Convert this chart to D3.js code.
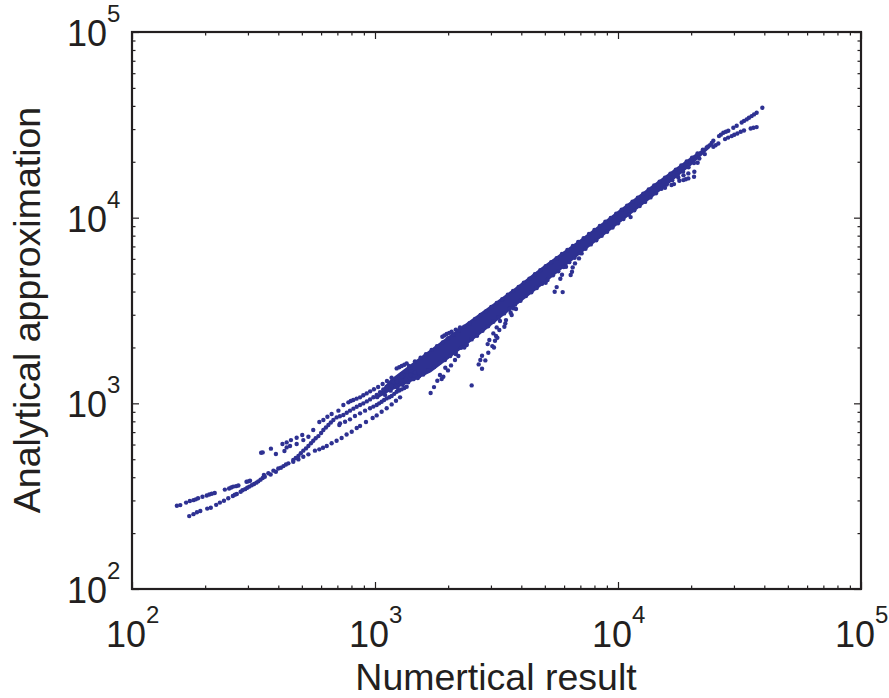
<!DOCTYPE html>
<html>
<head>
<meta charset="utf-8">
<script src="https://cdn.jsdelivr.net/npm/d3@7"></script>
<style>
  html, body { margin: 0; padding: 0; background: #fff; }
  svg { display: block; }
  text { font-family: "Liberation Sans", Arial, sans-serif; fill: #231f20; }
</style>
</head>
<body>
<svg id="chart" width="889" height="698"></svg>
<script>
// ── TICKS / LABELS ────────────────────────────────────────────────
const majorTicks = [100, 1000, 10000, 100000];
const tickExponents = ['2', '3', '4', '5'];
const minorTicks = [
  200, 300, 400, 500, 600, 700, 800, 900,
  2000, 3000, 4000, 5000, 6000, 7000, 8000, 9000,
  20000, 30000, 40000, 50000, 60000, 70000, 80000, 90000
];
const xTitle = 'Numertical result';
const yTitle = 'Analytical approximation';

// ── DATA, [numerical, analytical] ─────────────────────────────────
const tailLow = [[153,281],[158,283],[167,292],[173,298],[179,301],[183,304],[187,308],[195,314],[203,319],[208,323],[213,326],[219,329],[241,343],[251,348],[256,352],[261,356],[268,358],[274,361],[296,378],[301,380],[306,383]];
const stemLow = [[172,247],[179,253],[185,259],[191,263],[204,271],[211,274],[222,284],[230,292],[239,299],[249,308],[260,317],[270,325],[280,334],[292,345],[304,356],[318,368],[331,380],[345,396],[349,411],[364,420],[382,434],[400,446],[420,459],[440,475],[352,402],[372,414],[391,428],[410,450],[430,468],[265,322],[285,340],[298,351],[311,362],[325,374],[338,388]];
const forkLower = [[461,485],[484,499],[507,516],[532,531],[566,556],[590,565],[611,577],[633,589],[663,609],[695,629],[729,650],[764,680],[802,703],[841,736],[868,755],[918,793],[978,833],[1016,861],[1065,901],[1117,940],[1171,987],[1220,1033],[1268,1077]];
const forkUpper = [[461,495],[472,508],[484,520],[495,538],[507,556],[520,572],[532,589],[545,609],[557,629],[570,648],[585,666],[600,692],[613,718],[628,741],[643,764],[658,788],[674,813],[695,840],[717,852],[741,865],[765,889],[789,913],[815,936],[841,959],[868,979],[895,999],[925,1024],[954,1050],[985,1079],[1016,1108],[1049,1148],[1082,1189],[1117,1229],[1152,1270],[1190,1302],[1228,1335],[1268,1377],[1308,1420]];
const forkMiddle = [[718,780],[753,796],[789,820],[827,854],[868,883],[910,913],[954,940],[985,960],[1016,979],[1040,1000],[1065,1020],[1090,1042],[1117,1063],[1145,1079],[1171,1095],[1200,1125],[1228,1155],[1258,1172],[1288,1189],[1320,1209],[1350,1229]];
const looseUpper = [[340,542],[345,544],[373,570],[391,533],[416,604],[433,616],[451,634],[476,653],[502,675],[424,554],[433,579],[447,589],[476,604],[507,634],[532,661],[557,718],[590,793],[613,813],[637,847],[663,876],[707,913],[741,979],[777,1012],[814,1042],[868,1077],[924,1131],[1228,1542],[1258,1565],[1288,1588],[1320,1615],[1350,1641],[713,764],[795,1030],[840,1060],[895,1105],[955,1160],[990,1190],[1030,1225],[1075,1270],[1120,1320],[1170,1375]];
const fanMiddle = [[1020,1080],[1060,1130],[1110,1190],[1170,1240],[1230,1310],[1290,1400],[1350,1480],[1400,1560],[1100,1110],[1160,1170],[1220,1230],[1280,1280],[1340,1350],[1400,1420],[1460,1460],[1240,1210],[1300,1260],[1370,1300],[1440,1350],[1520,1400]];
const looseBand = [[1893,2284],[1930,2320],[1972,2361],[2020,2395],[2068,2430],[2150,2495],[2238,2564]];
const looseBelow = [[1694,1136],[1749,1223],[1805,1323],[1851,1420],[1911,1391],[1881,1351],[1947,1555],[1997,1504],[2055,1601],[2134,1710],[2203,1797],[2148,1842],[2499,1249],[2757,1536],[2671,1621],[2845,1703],[2713,1710],[2757,1804],[2926,1873],[2908,2085],[2954,2192],[3069,2380],[3040,2034],[3088,2000],[3118,2173],[3188,2256],[3148,2303],[3248,2481],[3168,2564],[3269,2774],[3407,2585],[3460,2808],[3438,2694],[3651,2988],[3709,3246],[3804,3219],[3616,3074],[5488,3990],[5920,3973],[5593,4228],[5790,4689],[5882,4928],[6386,4907],[6467,5114],[6509,5398],[6653,5673],[6910,6034],[7087,6419],[6109,5442],[5038,4461],[2384,2060],[2331,2000]];
const coreUpper = [[1380,1590],[1460,1680],[1540,1760],[1620,1840],[1710,1940],[1800,2030],[1900,2130],[2000,2240],[2100,2340],[2210,2470],[2330,2590],[2450,2700],[2580,2850],[2720,2990],[2860,3130],[3010,3300],[3170,3470],[3340,3640],[3520,3850],[3700,4030],[3900,4230],[4100,4470],[4320,4690],[4550,4960],[4790,5210],[5040,5480],[5310,5760],[5590,6050],[5880,6370],[6190,6700],[6520,7040],[6860,7390],[7220,7760],[7600,8170],[8000,8590],[8420,9020],[8870,9510],[9340,9980],[9830,10510],[10350,11040],[10900,11590],[11470,12200],[12070,12800],[12710,13480],[13380,14170],[14090,14900],[14830,15620],[15610,16420],[16440,17270],[17300,18150],[18210,19080],[19170,20050],[20180,21060],[21240,22150],[22360,23260]];
const coreLower = [[1500,1370],[1580,1430],[1660,1510],[1750,1570],[1840,1650],[1940,1710],[2040,1800],[2150,1880],[2260,1990],[2380,2080],[2500,2210],[2630,2310],[2770,2460],[2920,2600],[3070,2750],[3230,2910],[3400,3050],[3580,3220],[3770,3400],[3970,3570],[4180,3780],[4400,3960],[4630,4180],[4870,4400],[5130,4620],[5400,4890],[5680,5140],[5980,5420],[6300,5760],[6630,6080],[6980,6450],[7350,6800],[7730,7180],[8140,7550],[8570,7980],[9020,8400],[9500,8860],[10000,9330],[10530,9830],[11080,10380],[11670,10950],[12280,11550],[12930,12160],[13610,12860],[14330,13530],[15090,14300],[15880,15100],[16720,15920],[17600,16800],[18530,17700],[19510,18700],[20540,19700],[21620,20800],[22760,22000]];
const headUpper = [[39260,39080],[37200,36730],[36300,36000],[35480,35250],[34600,34500],[33840,33820],[33000,33200],[32280,32580],[30790,31260],[29830,30490],[28440,29380],[27800,29000],[27130,28660],[26500,28000],[26040,27500]];
const headLower = [[37200,30740],[36100,30500],[35150,30240],[33000,29500],[32000,29000],[30990,28420],[30100,27950],[29360,27500],[28400,27000],[27570,26500],[25880,25110],[25200,24550],[24680,24090],[24680,25950],[24300,25250],[23910,24590],[23500,24200],[23170,23890]];
const sideTail = [[20610,17670],[20550,16610],[19470,16270],[19000,16100],[18570,15930],[17880,15810],[17000,15160],[16600,15000],[17710,16470],[18600,16900],[19470,17310],[15610,14500],[21270,19760],[11270,10070]];

// where the dots overlap into a solid band: analytical range per numerical value
const coreX    = [1020, 1153, 1432, 1700, 2000, 2700, 3700, 5000, 7000, 10000, 14000, 20000, 24000];
const coreHigh = [1100, 1340, 1660, 1960, 2300, 3060, 4120, 5580, 7650, 10900, 15150, 21300, 24900];
const coreLow  = [1060, 1160, 1320, 1470, 1730, 2340, 3260, 4440, 6370,  9200, 13000, 19100, 23900];

const dotSeries = [tailLow, stemLow, forkLower, forkUpper, forkMiddle, looseUpper, fanMiddle, looseBand,
                   looseBelow, coreUpper, coreLower, headUpper, headLower, sideTail];

// ── LAYOUT ────────────────────────────────────────────────────────
const INK = '#231f20', DOT = '#2e3192';
const svg = d3.select('#chart');
const box = { left: 132, right: 861, top: 32, bottom: 589 };

const x = d3.scaleLog().domain([100, 100000]).range([box.left, box.right]);
const y = d3.scaleLog().domain([100, 100000]).range([box.bottom, box.top]);

// ── MARKS ─────────────────────────────────────────────────────────
const band = d3.area()
  .x((d, i) => x(coreX[i]))
  .y0((d, i) => y(coreLow[i]))
  .y1((d, i) => y(coreHigh[i]));
svg.append('path').attr('d', band(coreX)).attr('fill', DOT);

svg.append('g').selectAll('g')
  .data(dotSeries)
  .enter().append('g')
  .selectAll('circle')
  .data(d => d)
  .enter().append('circle')
    .attr('cx', d => x(d[0]))
    .attr('cy', d => y(d[1]))
    .attr('r', 2.2)
    .attr('fill', DOT);

// ── AXES ──────────────────────────────────────────────────────────
function drawSide(axisFn, scale, tx, ty, len) {
  [[majorTicks, len], [minorTicks, len / 2]].forEach(([vals, size]) => {
    const g = svg.append('g')
      .attr('transform', `translate(${tx},${ty})`)
      .call(axisFn(scale).tickValues(vals).tickSize(size).tickFormat(''));
    g.select('.domain').remove();
    g.selectAll('line').attr('stroke', INK).attr('stroke-width', 1.2);
  });
}
drawSide(d3.axisTop,    x, 0, box.bottom, 7);
drawSide(d3.axisBottom, x, 0, box.top,    7);
drawSide(d3.axisRight,  y, box.left, 0,   7);
drawSide(d3.axisLeft,   y, box.right, 0,  7);

svg.append('rect')
  .attr('x', box.left).attr('y', box.top)
  .attr('width', box.right - box.left).attr('height', box.bottom - box.top)
  .attr('fill', 'none').attr('stroke', INK).attr('stroke-width', 2.2);

// tick labels: 10 with a raised exponent
function powerLabel(px, py, exp) {
  const g = svg.append('g');
  g.append('text').attr('x', px).attr('y', py).attr('font-size', 36).text('10');
  g.append('text').attr('x', px + 40).attr('y', py - 24).attr('font-size', 24).text(exp);
}
majorTicks.forEach((v, i) => {
  powerLabel(x(v) - 26, 647, tickExponents[i]);
  powerLabel(67, y(v) + 14, tickExponents[i]);
});

svg.append('text')
  .attr('x', 496).attr('y', 689.5)
  .attr('text-anchor', 'middle').attr('font-size', 37.5)
  .text(xTitle);

svg.append('text')
  .attr('transform', 'translate(40,310) rotate(-90)')
  .attr('text-anchor', 'middle').attr('font-size', 37.5)
  .text(yTitle);
</script>
</body>
</html>
